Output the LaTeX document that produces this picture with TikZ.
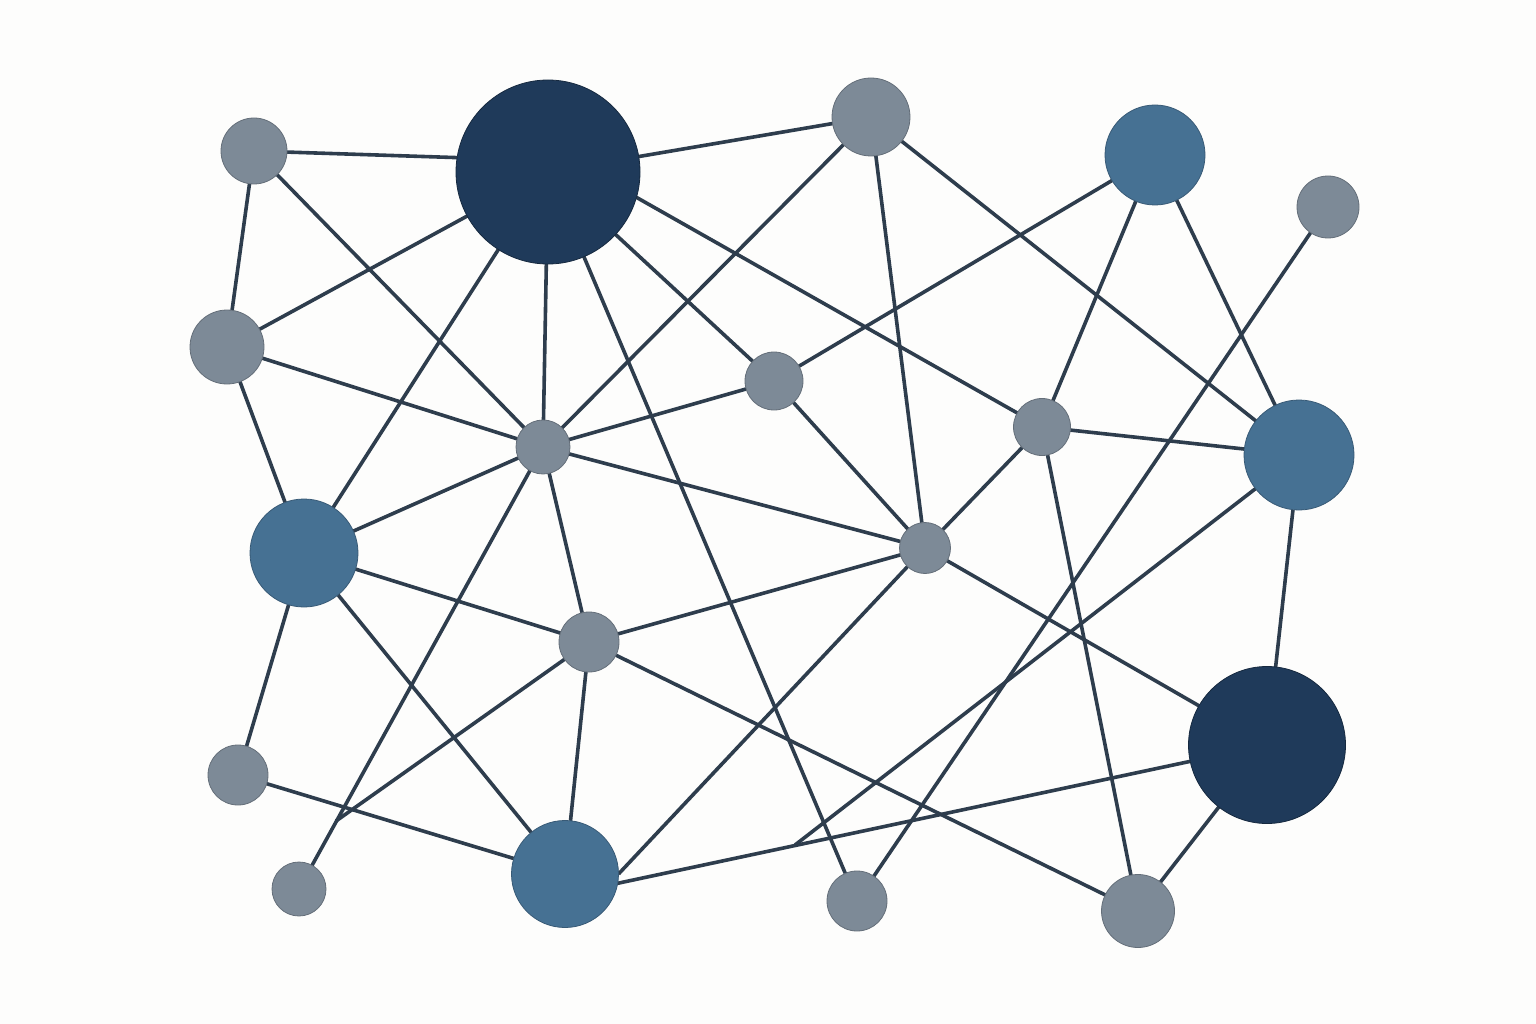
\documentclass[tikz,border=0pt]{standalone}
\usetikzlibrary{backgrounds}
\definecolor{bgc}{HTML}{FDFDFC}
\definecolor{navy}{HTML}{1F3A5A}
\definecolor{bluec}{HTML}{467193}
\definecolor{grayc}{HTML}{7D8A97}
\definecolor{edgec}{HTML}{2E3D4D}
\tikzset{
  x=1pt, y=-1pt,
  nd/.style={circle, inner sep=0pt, outer sep=0pt, line width=0.8pt},
  gn/.style={nd, fill=grayc, draw=grayc!80!black},
  bn/.style={nd, fill=bluec, draw=bluec!80!black},
  vn/.style={nd, fill=navy, draw=navy!70!black},
  ed/.style={draw=edgec, line width=3.6pt},
}
\begin{document}
\begin{tikzpicture}
\useasboundingbox (0,0) rectangle (1536,1024);
\node[gn, minimum size=66pt]  (A) at (254,151) {};
\node[vn, minimum size=184pt] (B) at (548,172) {};
\node[gn, minimum size=78pt]  (C) at (871,117) {};
\node[bn, minimum size=100pt] (D) at (1155,155) {};
\node[gn, minimum size=62pt]  (E) at (1328,207) {};
\node[gn, minimum size=74pt]  (F) at (227,347) {};
\node[gn, minimum size=58pt]  (G) at (774,381) {};
\node[gn, minimum size=54pt]  (H) at (543,447) {};
\node[gn, minimum size=57pt]  (I) at (1042,427) {};
\node[bn, minimum size=110pt] (J) at (1299,455) {};
\node[bn, minimum size=108pt] (K) at (304,553) {};
\node[gn, minimum size=51pt]  (L) at (925,548) {};
\node[gn, minimum size=60pt]  (M) at (589,642) {};
\node[vn, minimum size=157pt] (N) at (1267,745) {};
\node[gn, minimum size=60pt]  (O) at (238,775) {};
\node[gn, minimum size=54pt]  (P) at (299,889) {};
\node[bn, minimum size=107pt] (Q) at (565,874) {};
\node[gn, minimum size=60pt]  (R) at (857,901) {};
\node[gn, minimum size=73pt]  (S) at (1138,911) {};
\coordinate (cj) at (795,845);
\coordinate (cm) at (336,821);
\begin{scope}[on background layer]
\fill[bgc] (0,0) rectangle (1536,1024);
\foreach \a/\b in {A/F, A/H, B/F, B/C, B/H, B/K, B/G, B/R,
  C/H, C/L, C/J, D/G, D/I, D/J, E/R, F/H, F/K, H/G, H/K, H/L, H/M, H/P,
  G/L, I/L, I/J, I/S, J/N, K/M, K/Q, K/O, L/M, M/Q, M/S,
  O/Q, L/N, N/S}
  \draw[ed] (\a) -- (\b);
\draw[ed] (A) -- (B.171);
\draw[ed] (B.-16) -- (I);
\draw[ed] (L) -- (Q.east);
\draw[ed] (Q.-10) -- (N);
\draw[ed] (J) -- (cj);
\draw[ed] (M) -- (cm);
\end{scope}
\end{tikzpicture}
\end{document}
